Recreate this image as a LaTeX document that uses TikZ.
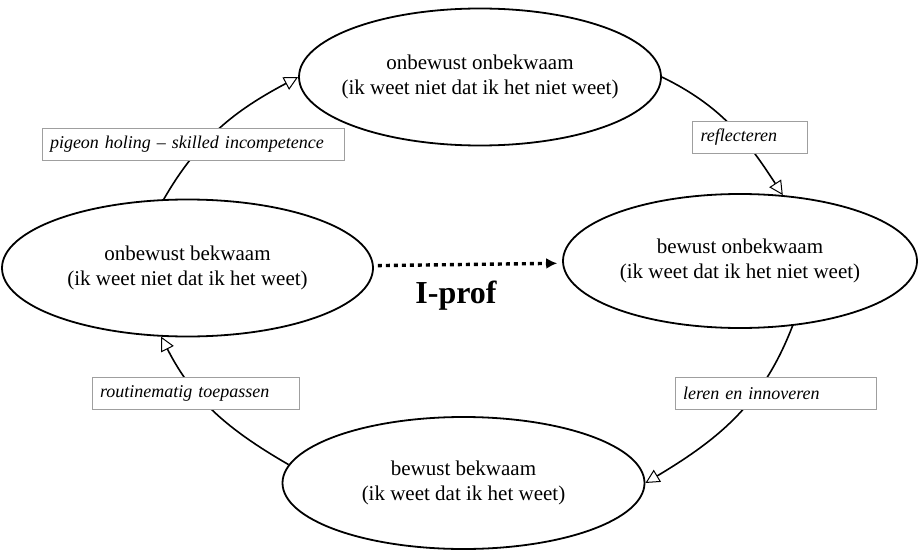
\documentclass[tikz,border=0pt]{standalone}
\usepackage{fontspec}
\setmainfont{Liberation Serif}
\usetikzlibrary{shapes.geometric,arrows.meta}
\begin{document}
\begin{tikzpicture}[x=1pt,y=1pt,
  stage/.style={draw, line width=1.8pt, ellipse, inner ysep=0pt, inner xsep=-60pt,
    align=center, font=\fontsize{21}{25}\selectfont},
  flow/.style={line width=1.6pt,
    -{Triangle[open, length=14pt, width=14pt, line width=1pt, fill=white]}},
  tag/.style={draw=gray!75, line width=0.8pt, fill=white, text width=#1,
    align=left, minimum height=32pt, inner xsep=8pt,
    font=\fontsize{18}{20}\selectfont\itshape},
  jump/.style={line width=3.4pt, dash pattern=on 4pt off 4pt,
    -{Latex[length=11pt, width=11pt]}, shorten <=4pt, shorten >=5pt}
]
\useasboundingbox (0,0) rectangle (918,550);

% the four stages of competence
\node[stage, minimum width=362pt, minimum height=137pt] (uu) at (480,473)
  {onbewust onbekwaam\\(ik weet niet dat ik het niet weet)};
\node[stage, minimum width=354pt, minimum height=134pt] (bu) at (740,289)
  {bewust onbekwaam\\(ik weet dat ik het niet weet)};
\node[stage, minimum width=362pt, minimum height=132pt] (bb) at (463.5,67)
  {bewust bekwaam\\(ik weet dat ik het weet)};
\node[stage, minimum width=371pt, minimum height=137pt] (ub) at (187.5,282)
  {onbewust bekwaam\\(ik weet niet dat ik het weet)};

% the cycle
\draw[flow] (ub.109) to[out=60, in=208] (uu.west);
\draw[flow] (uu.east) to[out=-26, in=123] (bu.57);
\draw[flow] (bu.309) to[out=249, in=31] (bb.east);
\draw[flow] (bb.174) to[out=150, in=297] (ub.249);

% labels on the cycle
\node[tag=286pt] (l1) at (193,405.5) {pigeon holing -- skilled incompetence};
\node[tag=99pt]  (l2) at (750,413) {reflecteren};
\node[tag=185pt] (l3) at (775.5,157) {leren en innoveren};
\node[tag=191pt] (l4) at (195.5,157) {routinematig toepassen};

% shortcut
\draw[jump] (ub) -- (bu);
\node[font=\fontsize{32}{36}\selectfont\bfseries] (ip) at (456,254) {I-prof};
\end{tikzpicture}
\end{document}
